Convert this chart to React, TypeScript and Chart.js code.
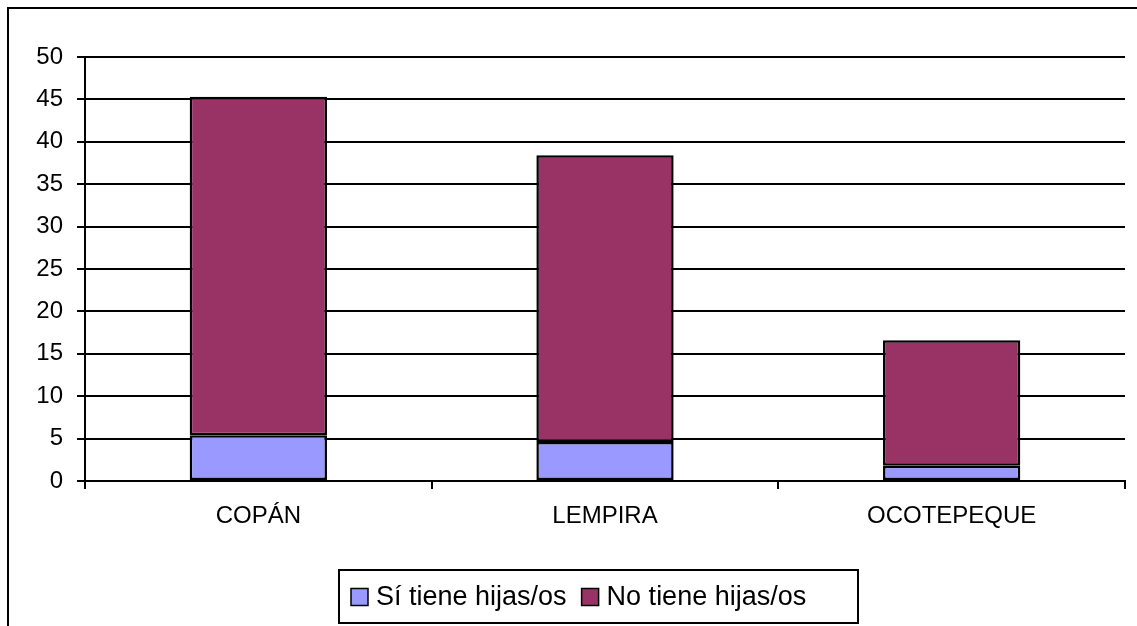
import React, { useEffect, useRef } from "react";
import { Chart, registerables } from "chart.js";

Chart.register(...registerables);

const categories = ["COPÁN", "LEMPIRA", "OCOTEPEQUE"];
const siTiene = [5.4, 4.6, 1.8];
const noTiene = [39.9, 33.8, 14.8];
const seriesLabels = ["Sí tiene hijas/os", "No tiene hijas/os"];
const seriesColors = ["#9999FF", "#993366"];

const FONT = "'Liberation Sans', Arial, sans-serif";

const framePlugin = {
  id: "frameAndLegend",
  afterDraw(chart: any) {
    const ctx = chart.ctx;
    ctx.save();
    ctx.strokeStyle = "#000";
    ctx.lineWidth = 2;
    ctx.strokeRect(8, 8, 1300, 800);

    const boxL = 339, boxT = 570, boxR = 858, boxB = 623;
    ctx.lineWidth = 2;
    ctx.strokeRect(boxL, boxT, boxR - boxL, boxB - boxT);
    ctx.font = `27px ${FONT}`;
    ctx.textBaseline = "middle";
    ctx.textAlign = "left";
    const cy = (boxT + boxB) / 2 + 1;
    let x = 351;
    chart.data.datasets.forEach((ds: any) => {
      ctx.fillStyle = ds.backgroundColor;
      ctx.fillRect(x, cy - 9, 17, 17);
      ctx.lineWidth = 1.5;
      ctx.strokeStyle = "#000";
      ctx.strokeRect(x, cy - 9, 17, 17);
      ctx.fillStyle = "#000";
      ctx.fillText(ds.label, x + 25, cy);
      x += 25 + ctx.measureText(ds.label).width + 15;
    });
    ctx.restore();
  },
};

export default function App() {
  const ref = useRef<HTMLCanvasElement>(null);
  useEffect(() => {
    if (!ref.current) return;
    const chart = new Chart(ref.current, {
      type: "bar",
      data: {
        labels: categories,
        datasets: [
          {
            label: seriesLabels[0],
            data: siTiene,
            backgroundColor: seriesColors[0],
            borderColor: "#000",
            borderWidth: 2.5,
            borderSkipped: false,
          },
          {
            label: seriesLabels[1],
            data: noTiene,
            backgroundColor: seriesColors[1],
            borderColor: "#000",
            borderWidth: 2.5,
            borderSkipped: false,
          },
        ],
      },
      options: {
        animation: false,
        responsive: false,
        maintainAspectRatio: false,
        devicePixelRatio: 1,
        layout: { padding: { left: 0, top: 57, right: 12, bottom: 0 } },
        datasets: {
          bar: { categoryPercentage: 1, barPercentage: 0.396 },
        },
        plugins: {
          legend: { display: false },
          tooltip: { enabled: false },
          title: { display: false },
        },
        scales: {
          x: {
            stacked: true,
            grid: {
              display: true,
              drawOnChartArea: false,
              drawTicks: true,
              tickLength: 8,
              color: "#000",
              lineWidth: 2,
              offset: true,
            },
            border: { display: true, color: "#000", width: 2 },
            ticks: {
              color: "#000",
              font: { family: FONT, size: 24 },
              padding: 13,
              maxRotation: 0,
            },
            afterFit(scale: any) {
              scale.height = 145;
            },
          },
          y: {
            stacked: true,
            min: 0,
            max: 50,
            grid: {
              color: "#000",
              lineWidth: 2,
              tickLength: 8,
              drawTicks: true,
            },
            border: { display: true, color: "#000", width: 2 },
            ticks: {
              stepSize: 5,
              color: "#000",
              font: { family: FONT, size: 24 },
              padding: 14,
            },
            afterFit(scale: any) {
              scale.width = 85;
            },
          },
        },
      },
      plugins: [framePlugin],
    });
    return () => chart.destroy();
  }, []);
  return (
    <canvas
      ref={ref}
      width={1137}
      height={626}
      style={{ position: "absolute", left: 0, top: 0, width: 1137, height: 626, background: "#fff" }}
    />
  );
}
